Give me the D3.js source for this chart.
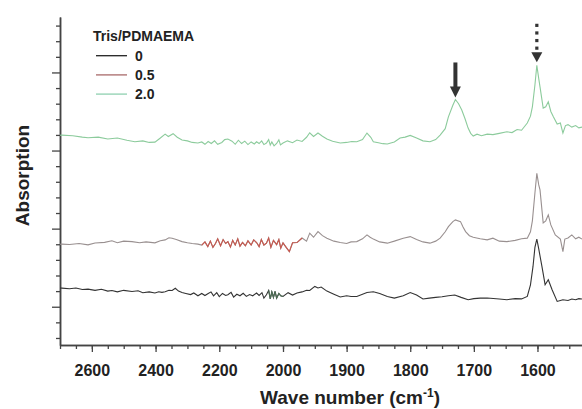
<!DOCTYPE html>
<html>
<head>
<meta charset="utf-8">
<script src="https://cdn.jsdelivr.net/npm/d3@7"></script>
<style>
  body { margin: 0; background: #fff; }
  svg { display: block; font-family: "Liberation Sans", Arial, sans-serif; }
</style>
</head>
<body>
<svg id="chart" width="582" height="409"></svg>
<script>
// espectros FTIR (numero de onda em cm-1, absorcao em unidades arbitrarias)
var waveTicks = [2600, 2400, 2200, 2000, 1900, 1800, 1700, 1600]
var seriesNames = ["0", "0.5", "2.0"]

var wn0 = [2700,2694,2670,2650,2630,2612,2590,2570,2550,2537,2520,2500,2474,2455,2440,2420,2402,2390,2380,2370,2358,2348,2338,2328,2317,2305,2290,2280,2267,2255,2245,2236,2226,2218,2208,2200,2190,2180,2173,2163,2155,2145,2135,2125,2115,2105,2095,2083,2075,2066,2060,2052,2045,2040,2035,2030,2025,2020,2013,2007,2000,1992,1985,1978,1970,1963,1958,1950,1945,1940,1931,1920,1910,1900,1893,1884,1875,1868,1858,1848,1836,1825,1811,1800,1790,1780,1770,1760,1750,1740,1730,1720,1709,1700,1690,1679,1660,1648,1635,1625,1616,1611,1607,1604,1601,1598,1593,1588,1583,1577,1569,1564,1560,1552,1546,1540,1535,1530]
var abs0 = [3.20,3.19,3.15,3.20,3.10,3.13,3.05,3.12,3.00,3.04,2.95,3.05,2.98,3.02,2.90,2.95,2.88,2.96,2.92,2.96,3.05,3.04,3.18,3.00,2.91,2.85,2.78,2.88,2.70,2.85,2.72,2.83,2.95,2.70,2.90,2.65,2.85,2.72,2.77,2.92,2.62,2.80,2.70,2.86,2.66,2.78,2.70,2.88,2.72,2.90,2.55,2.77,3.05,2.50,2.95,2.60,2.98,2.55,2.85,2.70,2.66,2.90,2.75,2.88,2.95,3.05,3.04,3.30,3.20,3.26,3.00,2.80,2.62,2.70,2.66,2.66,2.80,2.91,2.96,2.85,2.66,2.55,2.70,2.91,2.75,2.50,2.55,2.60,2.64,2.70,2.75,2.60,2.45,2.52,2.55,2.56,2.50,2.45,2.52,2.50,2.66,3.40,4.58,5.80,6.33,5.70,4.58,3.41,3.73,3.09,2.34,2.40,2.45,2.40,2.49,2.45,2.52,2.49]

var wn05 = [2700,2694,2670,2640,2612,2590,2560,2537,2520,2500,2474,2450,2430,2402,2385,2370,2358,2348,2335,2317,2300,2285,2267,2255,2245,2236,2228,2220,2212,2205,2196,2188,2180,2173,2165,2158,2150,2142,2135,2127,2118,2110,2100,2092,2083,2075,2068,2060,2052,2045,2038,2030,2020,2013,2007,2000,1995,1990,1985,1978,1970,1963,1958,1952,1945,1938,1931,1920,1910,1900,1893,1884,1875,1868,1863,1858,1848,1836,1825,1811,1800,1790,1780,1769,1760,1753,1745,1740,1733,1729,1721,1717,1713,1707,1701,1690,1679,1670,1660,1648,1635,1625,1616,1611,1608,1604,1601,1598,1596,1591,1587,1583,1579,1572,1564,1560,1557,1552,1546,1540,1535,1530]
var abs05 = [6.00,6.01,5.98,6.05,5.96,6.08,6.12,6.22,6.10,6.20,6.17,6.10,6.15,6.09,6.22,6.28,6.42,6.39,6.30,6.17,6.10,6.05,6.01,5.95,6.15,5.85,6.20,5.80,6.05,6.35,5.90,6.30,6.05,6.17,5.82,6.25,5.95,6.35,5.88,6.12,5.90,6.22,5.95,6.28,6.11,5.85,6.30,5.95,6.07,6.40,5.80,6.25,5.98,6.30,5.75,6.09,5.80,5.53,6.10,6.11,6.40,6.20,6.71,6.45,6.81,6.55,6.39,6.20,6.11,6.05,6.15,6.17,6.35,6.60,6.45,6.33,6.15,6.07,6.20,6.39,6.49,6.30,6.15,6.07,6.20,6.39,6.80,7.13,7.45,7.56,7.45,7.10,6.81,6.55,6.45,6.35,6.28,6.39,6.20,6.17,6.25,6.35,6.39,6.80,7.50,9.28,10.54,9.80,9.48,7.37,7.50,7.88,7.24,6.60,6.33,5.53,6.33,6.40,6.60,6.35,6.45,6.33]

var wn20 = [2700,2694,2660,2630,2612,2580,2550,2520,2490,2465,2440,2420,2402,2385,2370,2360,2345,2332,2317,2300,2285,2267,2255,2245,2235,2225,2215,2205,2192,2183,2173,2160,2150,2140,2130,2120,2110,2100,2090,2083,2075,2067,2060,2052,2045,2040,2035,2028,2020,2013,2008,2000,1993,1985,1978,1970,1963,1958,1952,1945,1938,1931,1922,1910,1900,1892,1884,1875,1868,1862,1858,1850,1843,1836,1825,1816,1808,1800,1790,1780,1769,1760,1753,1745,1740,1733,1729,1724,1719,1714,1709,1705,1701,1695,1688,1679,1670,1660,1648,1640,1632,1625,1616,1611,1608,1604,1601,1598,1596,1591,1587,1583,1579,1575,1569,1564,1560,1556,1552,1546,1540,1535,1530]
var abs20 = [12.98,12.99,12.95,12.86,12.82,12.86,12.74,12.80,12.66,12.56,12.62,12.52,12.54,12.80,13.05,12.90,13.08,12.85,12.67,12.62,12.52,12.48,12.55,12.40,12.58,12.45,12.62,12.40,12.52,12.70,12.74,12.60,12.40,12.66,12.45,12.60,12.38,12.55,12.42,12.56,12.45,12.62,12.38,12.48,12.70,12.35,12.55,12.30,12.45,12.68,12.36,12.48,12.62,12.50,12.67,12.58,12.85,13.14,12.90,13.12,12.92,12.74,12.60,12.48,12.52,12.58,12.56,12.70,13.12,12.85,12.56,12.50,12.44,12.42,12.55,12.80,12.86,12.97,12.80,12.62,12.56,12.70,12.99,13.40,14.16,14.90,15.27,15.00,14.59,14.05,13.44,13.10,12.93,13.05,12.95,13.05,13.02,13.10,13.20,13.15,13.35,13.30,13.76,14.20,14.80,16.20,17.46,16.60,16.08,14.72,14.80,15.12,14.50,14.16,13.70,13.76,13.12,13.60,13.66,13.50,13.60,13.45,13.50]

// bandas marcadas pelas setas
var arrowSolid = 1729
var arrowDotted = 1601

const width = 582
const height = 409

var svg = d3.select("#chart")

// eixo x quebrado: 2700-2000 comprimido, 2000-1530 expandido
var x = d3.scaleLinear()
    .domain([2700, 2000, 1530])
    .range([60, 283, 582])

var y = d3.scaleLinear()
    .domain([-0.45, 20.55])
    .range([345, 17])

var linha = d3.line()
    .x(d => x(d[0]))
    .y(d => y(d[1]))

function junta(wn, ab) {
    return wn.map((w, i) => [w, ab[i]])
}
var dados = [junta(wn0, abs0), junta(wn05, abs05), junta(wn20, abs20)]
var cores = ["#333", "#999090", "#8ccb9c"]
var coresLegenda = ["#222", "#a86a6a", "#8fd0b0"]

// eixo x
var eixoX = svg.append("g").attr("transform", "translate(0,345)")
eixoX.call(d3.axisBottom(x)
    .tickValues(d3.range(2700, 2000, -50).concat(d3.range(2000, 1529, -25)))
    .tickSize(4).tickSizeOuter(0).tickFormat(""))
eixoX.append("g").call(d3.axisBottom(x)
    .tickValues(waveTicks).tickSize(7).tickSizeOuter(0).tickFormat(d3.format("d")))
eixoX.selectAll("path.domain").attr("stroke", "#444").attr("stroke-width", 1.5)
eixoX.selectAll("line").attr("stroke", "#444").attr("stroke-width", 1.3)
eixoX.selectAll("text")
    .attr("dy", null).attr("y", 31)
    .style("font-size", "16px").style("font-weight", "bold")
    .style("font-family", "Liberation Sans, Arial, sans-serif")
    .attr("fill", "#222")

// eixo y sem rotulos
var eixoY = svg.append("g").attr("transform", "translate(60,0)")
eixoY.call(d3.axisLeft(y)
    .tickValues(d3.range(0, 21).filter(v => (v - 2) % 5 != 0))
    .tickSize(4).tickSizeOuter(0).tickFormat(""))
eixoY.append("g").call(d3.axisLeft(y)
    .tickValues([2, 7, 12, 17]).tickSize(8).tickSizeOuter(0).tickFormat(""))
eixoY.selectAll("path.domain").attr("stroke", "#444").attr("stroke-width", 1.5)
eixoY.selectAll("line").attr("stroke", "#444").attr("stroke-width", 1.3)

// espectros
svg.append("g")
    .selectAll("path")
    .data(dados)
    .join("path")
    .attr("d", linha)
    .attr("fill", "none")
    .attr("stroke", (d, i) => cores[i])
    .attr("stroke-width", 1.1)

// trechos ruidosos com cor diferente (como na figura)
svg.append("path")
    .attr("d", linha(dados[1].filter(d => d[0] <= 2255 && d[0] >= 1970)))
    .attr("fill", "none").attr("stroke", "#c8584e").attr("stroke-width", 1.1)
svg.append("path")
    .attr("d", linha(dados[0].filter(d => d[0] <= 2045 && d[0] >= 1995)))
    .attr("fill", "none").attr("stroke", "#4d6e55").attr("stroke-width", 1.1)

// setas
var picoSolido = y(d3.max(dados[2].filter(d => Math.abs(d[0] - arrowSolid) < 5), d => d[1])) - 2
var picoPontilhado = y(d3.max(dados[2].filter(d => Math.abs(d[0] - arrowDotted) < 5), d => d[1])) - 3
var xs = x(arrowSolid)
svg.append("rect")
    .attr("x", xs - 2).attr("y", picoSolido - 35).attr("width", 4).attr("height", 26)
    .attr("fill", "#333")
svg.append("path")
    .attr("d", `M${xs - 5.5},${picoSolido - 11} L${xs + 5.5},${picoSolido - 11} L${xs},${picoSolido} Z`)
    .attr("fill", "#333")
var xd = x(arrowDotted)
svg.append("g")
    .selectAll("rect")
    .data([0, 1, 2, 3])
    .join("rect")
    .attr("x", xd - 1.6)
    .attr("y", d => picoPontilhado - 38.5 + d * 7.6)
    .attr("width", 3.2).attr("height", 3.2)
    .attr("fill", "#333")
svg.append("path")
    .attr("d", `M${xd - 5.5},${picoPontilhado - 10} L${xd + 5.5},${picoPontilhado - 10} L${xd},${picoPontilhado} Z`)
    .attr("fill", "#333")

// legenda
var legenda = svg.append("g").attr("transform", "translate(93,0)")
legenda.append("text")
    .attr("x", 0).attr("y", 40.5)
    .style("font-size", "14px").style("font-weight", "bold")
    .attr("fill", "#222")
    .text("Tris/PDMAEMA")
var item = legenda.selectAll("g.item")
    .data(seriesNames)
    .join("g")
    .attr("class", "item")
    .attr("transform", (d, i) => `translate(0,${55.7 + i * 19.2})`)
item.append("line")
    .attr("x1", 3).attr("x2", 34)
    .attr("stroke", (d, i) => coresLegenda[i])
    .attr("stroke-width", 1.3)
item.append("text")
    .attr("x", 42).attr("y", 4.8)
    .style("font-size", "14px").style("font-weight", "bold")
    .attr("fill", "#222")
    .text(d => d)

// titulos dos eixos
var tituloX = svg.append("text")
    .attr("x", 350).attr("y", 404)
    .attr("text-anchor", "middle")
    .style("font-size", "19px").style("font-weight", "bold")
    .attr("fill", "#222")
tituloX.append("tspan").text("Wave number (cm")
tituloX.append("tspan").attr("dy", -7).style("font-size", "12px").text("-1")
tituloX.append("tspan").attr("dy", 7).text(")")

svg.append("text")
    .attr("transform", "translate(28.5,175.5) rotate(-90)")
    .attr("text-anchor", "middle")
    .style("font-size", "19px").style("font-weight", "bold")
    .attr("fill", "#222")
    .text("Absorption")
</script>
</body>
</html>
